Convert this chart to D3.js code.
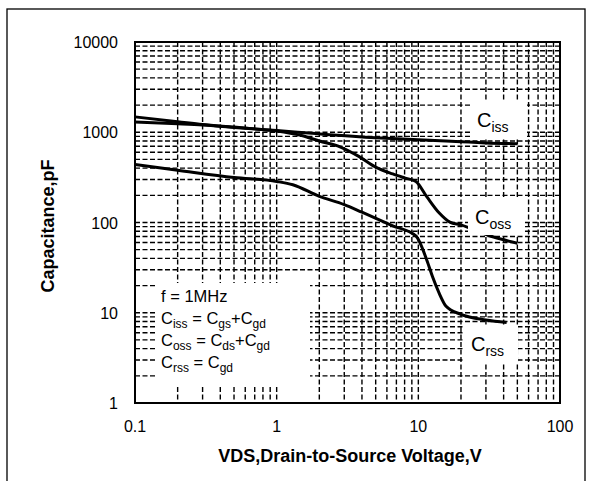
<!DOCTYPE html>
<html><head><meta charset="utf-8">
<script src="https://cdn.jsdelivr.net/npm/d3@7"></script>
<style>body{margin:0;background:#fff}svg{display:block}text{font-family:"Liberation Sans",Arial,sans-serif;fill:#000}</style>
</head><body>
<svg id="c" width="593" height="481"></svg>
<script>
const cissV = [0.1,0.2,0.3,0.5,1,2,5,10,20,30,50];
const cissC = [1300,1240,1200,1130,1045,960,870,825,785,762,745];
const cossV = [0.1,0.2,0.3,0.5,0.7,1,1.5,2,2.8,3.8,5,6.6,8,9.6,11.5,14,16.7,20,23,34,50];
const cossC = [1480,1310,1215,1140,1090,1035,920,800,690,540,410,345,312,285,192,128,101,94,87,69,59];
const crssV = [0.1,0.2,0.5,1,1.3,2,3,4,6.6,9.6,11.5,12.6,14,15.7,20,30,42];
const crssC = [440,380,315,285,262,195,158,130,92,71,38,25,16.6,11.8,9.6,8.3,7.8];
const xTicks = [0.1,1,10,100];
const xTickLabels = ["0.1","1","10","100"];
const yTicks = [1,10,100,1000,10000];
const yTickLabels = ["1","10","100","1000","10000"];
const xTitle = "VDS,Drain-to-Source Voltage,V";
const yTitle = "Capacitance,pF";
const legendLines = [
  [["f = 1MHz",""]],
  [["C","iss"],[" = C","gs"],["+C","gd"]],
  [["C","oss"],[" = C","ds"],["+C","gd"]],
  [["C","rss"],[" = C","gd"]]
];

const svg = d3.select("#c");
const L=135, R=560, T=42, B=403;
const x = d3.scaleLog().domain([0.1,100]).range([L,R]);
const y = d3.scaleLog().domain([1,10000]).range([B,T]);

// outer frame
svg.append("rect").attr("x",7).attr("y",9).attr("width",578).attr("height",490)
  .attr("fill","none").attr("stroke","#000").attr("stroke-width",1.3);

// grid
const xg=[], yg=[];
[0.1,1,10].forEach(d=>{for(let k=1;k<=9;k++) xg.push(d*k);}); xg.push(100);
[1,10,100,1000].forEach(d=>{for(let k=1;k<=9;k++) yg.push(d*k);}); yg.push(10000);
const g = svg.append("g").attr("stroke","#000").attr("stroke-width",1.4).attr("stroke-dasharray","5,2.5");
g.selectAll(".vx").data(xg).enter().append("line")
  .attr("x1",d=>x(d)).attr("x2",d=>x(d)).attr("y1",T).attr("y2",B);
g.selectAll(".hy").data(yg).enter().append("line")
  .attr("y1",d=>y(d)).attr("y2",d=>y(d)).attr("x1",L).attr("x2",R);

// curves
const line = d3.line().x(d=>x(d[0])).y(d=>y(d[1])).curve(d3.curveMonotoneX);
[[cissV,cissC],[cossV,cossC],[crssV,crssC]].forEach(([vs,cs])=>{
  svg.append("path").datum(vs.map((v,i)=>[v,cs[i]])).attr("d",line)
    .attr("fill","none").attr("stroke","#000").attr("stroke-width",3).attr("stroke-linejoin","round");
});

// white label boxes
const boxes = [[155,283,310,386],[472,100,527,139],[468,197,523,235],[463,325,518,362]];
svg.selectAll(".bx").data(boxes).enter().append("rect")
  .attr("x",d=>d[0]).attr("y",d=>d[1]).attr("width",d=>d[2]-d[0]).attr("height",d=>d[3]-d[1]).attr("fill","#fff");

// text with subscripts
function subText(sel, parts, fs, sfs, dyS){
  let shift = 0;
  parts.forEach(([main,sub])=>{
    sel.append("tspan").attr("font-size",fs).attr("dy",-shift).text(main);
    shift = 0;
    if(sub){
      sel.append("tspan").attr("font-size",sfs).attr("dy",dyS).text(sub);
      shift = dyS;
    }
  });
}
[[477,127,"iss"],[475,224,"oss"],[471,351,"rss"]].forEach(([tx,ty,s])=>{
  const t = svg.append("text").attr("x",tx).attr("y",ty);
  subText(t,[["C",s]],20,14,5);
});

// legend
legendLines.forEach((parts,i)=>{
  const t = svg.append("text").attr("x",161).attr("y",301.5+i*22.2);
  subText(t,parts,16.5,12,4);
});

// plot border
svg.append("rect").attr("x",L).attr("y",T).attr("width",R-L).attr("height",B-T)
  .attr("fill","none").attr("stroke","#000").attr("stroke-width",2);

// tick labels
svg.selectAll(".xl").data(xTicks).enter().append("text")
  .attr("x",d=>x(d)).attr("y",432).attr("text-anchor","middle").attr("font-size",16)
  .text((d,i)=>xTickLabels[i]);
svg.selectAll(".yl").data(yTicks).enter().append("text")
  .attr("x",118).attr("y",d=>y(d)+6).attr("text-anchor","end").attr("font-size",16)
  .text((d,i)=>yTickLabels[i]);

// titles
svg.append("text").attr("x",350).attr("y",462).attr("text-anchor","middle")
  .attr("font-size",18).attr("font-weight","bold").text(xTitle);
svg.append("text").attr("transform","translate(54,226) rotate(-90)").attr("text-anchor","middle")
  .attr("font-size",18).attr("font-weight","bold").text(yTitle);
</script>
</body></html>
